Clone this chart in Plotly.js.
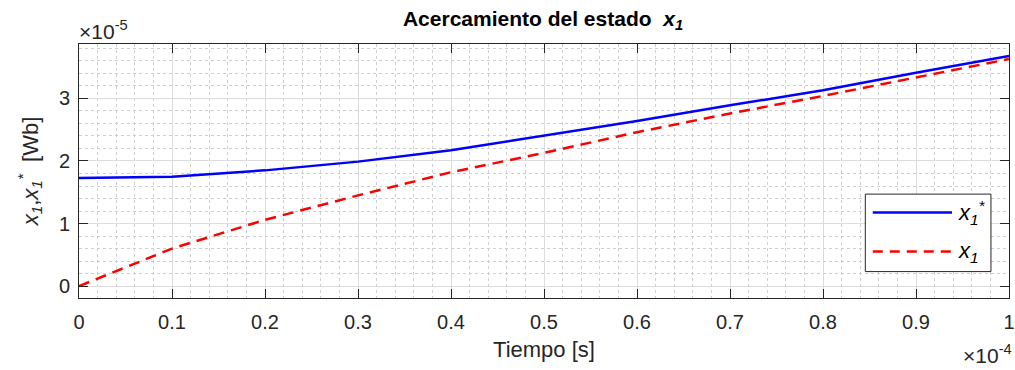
<!DOCTYPE html>
<html>
<head>
<meta charset="utf-8">
<script src="https://cdn.plot.ly/plotly-3.0.1.min.js"></script>
<style>
html,body{margin:0;padding:0;background:#fff;}
#chart{width:1015px;height:370px;}
</style>
</head>
<body>
<div id="chart"></div>
<script>
// time in units of 1e-4 s
var tiempo = [0, 0.1, 0.2, 0.3, 0.4, 0.5, 0.6, 0.7, 0.8, 0.9, 1.0];
// x1* reference (units of 1e-5 Wb)
var x1Ref = [1.73, 1.75, 1.85, 1.99, 2.17, 2.40, 2.64, 2.89, 3.13, 3.41, 3.68];
// x1 estimated state (units of 1e-5 Wb)
var x1 = [0.00, 0.60, 1.06, 1.45, 1.82, 2.13, 2.46, 2.76, 3.04, 3.34, 3.63];
var xTicks = [0, 0.1, 0.2, 0.3, 0.4, 0.5, 0.6, 0.7, 0.8, 0.9, 1];
var xTickLabels = ['0', '0.1', '0.2', '0.3', '0.4', '0.5', '0.6', '0.7', '0.8', '0.9', '1'];
var yTicks = [0, 1, 2, 3];
var yTickLabels = ['0', '1', '2', '3'];

var FONT = 'Liberation Sans, Arial, sans-serif';
var TXT = '#262626';

var traces = [
  {x: tiempo, y: x1Ref, type: 'scatter', mode: 'lines', name: 'x1*',
   line: {color: '#0000ff', width: 2.5}, showlegend: false},
  {x: tiempo, y: x1, type: 'scatter', mode: 'lines', name: 'x1',
   line: {color: '#ff0000', width: 2.5, dash: '11px,7px'}, showlegend: false}
];

var axisCommon = {
  showline: true, linecolor: TXT, linewidth: 1, mirror: 'ticks',
  ticks: 'inside', ticklen: 9, tickcolor: TXT, tickwidth: 1,
  showgrid: true, gridcolor: '#dcdcdc', gridwidth: 1,
  zeroline: false,
  tickfont: {family: FONT, size: 20, color: TXT}
};

var layout = {
  width: 1015, height: 370,
  margin: {l: 79, r: 6, t: 44, b: 72},
  paper_bgcolor: '#ffffff', plot_bgcolor: '#ffffff',
  title: {
    text: '<b>Acercamiento del estado  <i>x<sub>1</sub></i></b>',
    font: {family: FONT, size: 21, color: '#000000'},
    x: 0.535, xanchor: 'center', y: 0.95, yanchor: 'middle'
  },
  xaxis: Object.assign({}, axisCommon, {
    range: [0, 1],
    tickvals: xTicks, ticktext: xTickLabels,
    ticklabelstandoff: 6,
    minor: {dtick: 0.02, showgrid: true, gridcolor: '#cfcfcf', griddash: 'dot', gridwidth: 1, ticks: ''},
    title: {text: 'Tiempo [s]', font: {family: FONT, size: 22, color: TXT}, standoff: 9}
  }),
  yaxis: Object.assign({}, axisCommon, {
    range: [-0.19, 3.87],
    tickvals: yTicks, ticktext: yTickLabels,
    ticklabelstandoff: 4,
    minor: {dtick: 0.2, showgrid: true, gridcolor: '#cfcfcf', griddash: 'dot', gridwidth: 1, ticks: ''},
    title: {text: '<i>x<sub>1</sub></i>,<i>x<sub>1</sub><sup>*</sup></i>  [Wb]', font: {family: FONT, size: 22, color: TXT}, standoff: 14}
  }),
  shapes: [
    {type: 'rect', xref: 'paper', yref: 'paper', x0: 0.8455, x1: 0.9806, y0: 0.104, y1: 0.409,
     line: {color: TXT, width: 1}, fillcolor: '#ffffff', layer: 'above'},
    {type: 'line', xref: 'paper', yref: 'paper', x0: 0.8535, x1: 0.9387, y0: 0.337, y1: 0.337,
     line: {color: '#0000ff', width: 2.5}, layer: 'above'},
    {type: 'line', xref: 'paper', yref: 'paper', x0: 0.8535, x1: 0.9387, y0: 0.183, y1: 0.183,
     line: {color: '#ff0000', width: 2.5, dash: '10px,7px'}, layer: 'above'}
  ],
  annotations: [
    {xref: 'paper', yref: 'paper', x: 0.943, y: 0.337, xanchor: 'left', yanchor: 'middle', showarrow: false,
     text: '<i>x<sub>1</sub><sup>*</sup></i>', font: {family: FONT, size: 22, color: '#000000'}},
    {xref: 'paper', yref: 'paper', x: 0.943, y: 0.183, xanchor: 'left', yanchor: 'middle', showarrow: false,
     text: '<i>x<sub>1</sub></i>', font: {family: FONT, size: 22, color: '#000000'}},
    {xref: 'paper', yref: 'paper', x: 0.0, y: 1.0, xanchor: 'left', yanchor: 'bottom', yshift: -1, xshift: -2, showarrow: false,
     text: '×10<sup>-5</sup>', font: {family: FONT, size: 21, color: TXT}},
    {xref: 'paper', yref: 'paper', x: 1.0, y: 0, xanchor: 'right', yanchor: 'top', yshift: -41, xshift: 5, showarrow: false,
     text: '×10<sup>-4</sup>', font: {family: FONT, size: 21, color: TXT}}
  ]
};

Plotly.newPlot('chart', traces, layout, {staticPlot: true, displayModeBar: false});
</script>
</body>
</html>
